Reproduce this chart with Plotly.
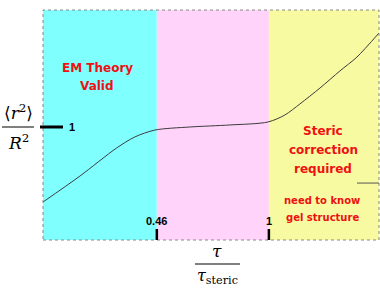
import math
import plotly.graph_objects as go

# data
tau_ratio = [0.209, 0.270, 0.348, 0.395, 0.454, 0.578, 0.763, 0.993, 1.117, 1.240, 1.425, 1.636, 1.841, 2.145]
r2_ratio = [0.336, 0.566, 0.814, 0.912, 0.973, 1.000, 1.018, 1.044, 1.106, 1.204, 1.345, 1.496, 1.619, 1.832]
region_edges = [0.209, 0.46, 1.0, 2.145]
region_colors = ["#80FFFF", "#FFD3FA", "#F8FAA2"]
x_tick_vals = [0.46, 1.0]
x_tick_labels = ["0.46", "1"]
y_tick_vals = [1.0]
y_tick_labels = ["1"]
right_mark_y = 0.504

W, H = 380, 288
L, T, R, B = 43, 10, 1, 48
pw, ph = W - L - R, H - T - B


def px(xp):
    return (xp - L) / pw


def py(yp):
    return (H - B - yp) / ph


fig = go.Figure()
fig.add_trace(go.Scatter(x=tau_ratio, y=r2_ratio, mode="lines",
                         line=dict(color="#3c3c3c", width=1, shape="spline", smoothing=0.8),
                         hoverinfo="skip"))

shapes = []
for i, c in enumerate(region_colors):
    shapes.append(dict(type="rect", xref="x", yref="paper", x0=region_edges[i], x1=region_edges[i + 1],
                       y0=0, y1=1, fillcolor=c, line=dict(width=0), layer="below"))
# dotted frame
shapes.append(dict(type="rect", xref="paper", yref="paper", x0=0, x1=1, y0=0, y1=1,
                   line=dict(color="#888888", width=1, dash="dot")))
# x tick marks
for v in x_tick_vals:
    shapes.append(dict(type="line", xref="x", yref="paper", x0=v, x1=v, y0=0, y1=py(229),
                       line=dict(color="black", width=2.5)))
# y tick mark
for v in y_tick_vals:
    shapes.append(dict(type="line", xref="paper", yref="y", x0=px(40), x1=px(63), y0=v, y1=v,
                       line=dict(color="black", width=3)))
# right short mark
shapes.append(dict(type="line", xref="paper", yref="y", x0=px(357), x1=1, y0=right_mark_y, y1=right_mark_y,
                   line=dict(color="#555555", width=1)))
# fraction bars
shapes.append(dict(type="line", xref="paper", yref="paper", x0=px(2), x1=px(34), y0=py(127), y1=py(127),
                   line=dict(color="black", width=1)))
shapes.append(dict(type="line", xref="paper", yref="paper", x0=px(195), x1=px(240), y0=py(264), y1=py(264),
                   line=dict(color="black", width=1)))

ann = []
tick_font = dict(family="Liberation Sans", size=11, color="black")
for v, t in zip(x_tick_vals, x_tick_labels):
    ann.append(dict(x=math.log10(v), xref="x", y=py(221), yref="paper", text="<b>%s</b>" % t,
                    showarrow=False, font=tick_font, xanchor="center", yanchor="middle"))
for v, t in zip(y_tick_vals, y_tick_labels):
    ann.append(dict(x=px(72), xref="paper", y=v, yref="y", text="<b>%s</b>" % t,
                    showarrow=False, font=tick_font, xanchor="center", yanchor="middle"))

red = "#EE1111"
comic = dict(family="DejaVu Sans", size=12, color=red)
small = dict(family="DejaVu Sans", size=10, color=red)
texts = [("EM Theory", 97, 68, comic), ("Valid", 97, 86, comic),
         ("Steric", 323, 131, comic), ("correction", 323, 150, comic), ("required", 323, 169, comic),
         ("need to know", 322, 200, small), ("gel structure", 322, 217, small)]
for t, x, y, f in texts:
    ann.append(dict(x=px(x), y=py(y), xref="paper", yref="paper", text="<b>%s</b>" % t,
                    showarrow=False, font=f, xanchor="center", yanchor="middle"))

math_font = dict(family="DejaVu Serif", size=17, color="black")
ann.append(dict(x=px(18), y=py(112), xref="paper", yref="paper", text="⟨<i>r</i><sup>2</sup>⟩",
                showarrow=False, font=math_font, xanchor="center", yanchor="middle"))
ann.append(dict(x=px(18), y=py(142), xref="paper", yref="paper", text="<i>R</i><sup>2</sup>",
                showarrow=False, font=math_font, xanchor="center", yanchor="middle"))
ann.append(dict(x=px(217), y=py(251), xref="paper", yref="paper", text="<i>τ</i>",
                showarrow=False, font=math_font, xanchor="center", yanchor="middle"))
ann.append(dict(x=px(217), y=py(276), xref="paper", yref="paper", text="<i>τ</i><sub>steric</sub>",
                showarrow=False, font=dict(family="DejaVu Serif", size=16, color="black"),
                xanchor="center", yanchor="middle"))

fig.update_layout(
    width=W, height=H, margin=dict(l=L, r=R, t=T, b=B),
    paper_bgcolor="white", plot_bgcolor="white", showlegend=False,
    xaxis=dict(type="log", range=[math.log10(region_edges[0]), math.log10(region_edges[-1])],
               showgrid=False, zeroline=False, showticklabels=False, ticks="", showline=False),
    yaxis=dict(range=[0, ph / 113.0], showgrid=False, zeroline=False, showticklabels=False,
               ticks="", showline=False),
    shapes=shapes, annotations=ann,
)
fig.write_html("out.html")
